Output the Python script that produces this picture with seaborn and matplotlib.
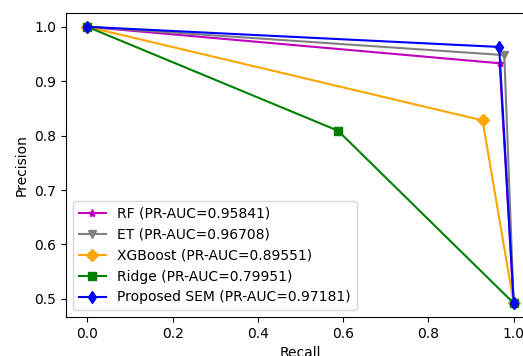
import matplotlib
matplotlib.use("Agg")
import matplotlib.pyplot as plt
import seaborn as sns
import numpy as np

# Data (recall, precision)
rf_recall = [0.0, 0.967, 1.0]
rf_precision = [1.0, 0.933, 0.492]
et_recall = [0.0, 0.978, 1.0]
et_precision = [1.0, 0.948, 0.492]
xgb_recall = [0.0, 0.927, 1.0]
xgb_precision = [1.0, 0.828, 0.492]
ridge_recall = [0.0, 0.588, 1.0]
ridge_precision = [1.0, 0.809, 0.492]
sem_recall = [0.0, 0.966, 1.0]
sem_precision = [1.0, 0.963, 0.492]

labels = ["RF (PR-AUC=0.95841)", "ET (PR-AUC=0.96708)", "XGBoost (PR-AUC=0.89551)",
          "Ridge (PR-AUC=0.79951)", "Proposed SEM (PR-AUC=0.97181)"]
colors = ["m", "gray", "orange", "green", "blue"]
markers = ["*", "v", "D", "s", "d"]

series = [(rf_recall, rf_precision), (et_recall, et_precision), (xgb_recall, xgb_precision),
          (ridge_recall, ridge_precision), (sem_recall, sem_precision)]

fig = plt.figure(figsize=(5.23, 3.56), dpi=100)
ax = fig.add_axes([66/523, 39/356, 469/523, 304/356])

for (r, p), lab, c, m in zip(series, labels, colors, markers):
    sns.lineplot(x=r, y=p, sort=False, estimator=None, ax=ax, color=c, marker=m,
                 markersize=6, markeredgecolor=c, markeredgewidth=1, linewidth=1.5, label=lab)

ax.set_xlabel("Recall")
ax.set_ylabel("Precision")
ax.set_xticks([0.0, 0.2, 0.4, 0.6, 0.8, 1.0])
ax.legend(loc="lower left")
fig.savefig("out.png", dpi=100)
